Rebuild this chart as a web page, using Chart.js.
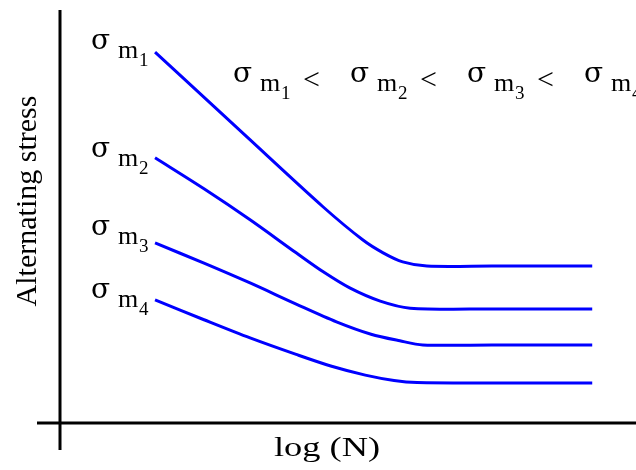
<!DOCTYPE html>
<html>
<head>
<meta charset="utf-8">
<title>Alternating stress vs log (N)</title>
<script src="https://cdn.jsdelivr.net/npm/chart.js@4.4.1/dist/chart.umd.min.js"></script>
<style>
  html, body { margin: 0; padding: 0; background: #fff; }
  .chart-box { width: 636px; height: 470px; position: relative; }
</style>
</head>
<body>
<div class="chart-box">
  <canvas id="snCurveChart"></canvas>
</div>

<script>
// DATA (arbitrary units: log N 0-10, stress 0-10)

const curveNames = ['1', '2', '3', '4'];

const logN1 = [1.65, 2.14, 3.25, 4.57, 5.26, 5.61, 5.95, 6.37, 7.50, 9.24];
const stress1 = [8.98, 8.35, 6.92, 5.23, 4.43, 4.12, 3.90, 3.80, 3.80, 3.80];

const logN2 = [1.65, 2.50, 3.30, 4.10, 4.57, 5.03, 5.56, 6.08, 7.50, 9.24];
const stress2 = [6.42, 5.67, 4.92, 4.12, 3.66, 3.27, 2.95, 2.78, 2.76, 2.76];

const logN3 = [1.65, 2.50, 3.30, 4.10, 4.80, 5.40, 5.90, 6.30, 7.50, 9.24];
const stress3 = [4.36, 3.87, 3.39, 2.88, 2.45, 2.15, 1.99, 1.89, 1.89, 1.89];

const logN4 = [1.65, 2.50, 3.30, 4.10, 4.70, 5.30, 5.80, 6.20, 7.50, 9.24];
const stress4 = [2.98, 2.50, 2.06, 1.66, 1.38, 1.16, 1.03, 0.98, 0.97, 0.97];

const xRange = [0, 10];
const yRange = [0, 10];

const xTitle = 'log (N)';
const yTitle = 'Alternating stress';


document.addEventListener('DOMContentLoaded', function() {
  initializeChart();
});


// build {x,y} points from two arrays
function toPoints(xs, ys) {
  return xs.map((x, i) => ({ x: x, y: ys[i] }));
}


// draw "σ m k" with subscript, starting at x, sigma baseline at y
function drawSigma(ctx, x, y, sub) {
  ctx.fillStyle = '#000';
  ctx.textAlign = 'left';
  ctx.textBaseline = 'alphabetic';
  ctx.font = '28px "DejaVu Serif", serif';
  ctx.fillText('σ', x, y);
  ctx.font = '26px "Liberation Serif", "Times New Roman", serif';
  ctx.fillText('m', x + 27, y + 9);
  ctx.font = '19px "Liberation Serif", "Times New Roman", serif';
  ctx.fillText(sub, x + 48, y + 17);
}


// Axes, titles and sigma labels
const annotationPlugin = {
  id: 'snAnnotations',
  afterDraw(chart) {
    const ctx = chart.ctx;
    const area = chart.chartArea;
    const xs = chart.scales.x;
    const ys = chart.scales.y;
    ctx.save();

    // axis lines (x axis runs past the y axis, y axis runs below the x axis)
    ctx.strokeStyle = '#000';
    ctx.lineWidth = 3;
    ctx.beginPath();
    ctx.moveTo(area.left, area.top);
    ctx.lineTo(area.left, area.bottom + 27);
    ctx.moveTo(area.left - 23, area.bottom);
    ctx.lineTo(chart.width, area.bottom);
    ctx.stroke();

    // x title (bitmap in reference is stretched sideways)
    ctx.save();
    ctx.fillStyle = '#000';
    ctx.font = '28px "Liberation Serif", "Times New Roman", serif';
    ctx.textAlign = 'center';
    ctx.textBaseline = 'alphabetic';
    ctx.translate(327, 456);
    ctx.scale(1.3, 1);
    ctx.fillText(xTitle, 0, 0);
    ctx.restore();

    // y title
    ctx.save();
    ctx.fillStyle = '#000';
    ctx.font = '30px "Liberation Serif", "Times New Roman", serif';
    ctx.textAlign = 'center';
    ctx.textBaseline = 'alphabetic';
    ctx.translate(36, 201);
    ctx.rotate(-Math.PI / 2);
    ctx.fillText(yTitle, 0, 0);
    ctx.restore();

    // curve labels next to each curve start
    const nudge = [-3, -1, -8, -2];
    chart.data.datasets.forEach((ds, i) => {
      const p = ds.data[0];
      const px = xs.getPixelForValue(p.x);
      const py = ys.getPixelForValue(p.y);
      drawSigma(ctx, px - 64, py + nudge[i], curveNames[i]);
    });

    // ordering note at top right
    const startX = 233;
    curveNames.forEach((name, i) => {
      const gx = startX + i * 117;
      drawSigma(ctx, gx, 82, name);
      if (i < curveNames.length - 1) {
        ctx.font = '30px "Liberation Serif", "Times New Roman", serif';
        ctx.fillText('<', gx + 70, 89);
      }
    });

    ctx.restore();
  }
};


// Initialize chart

function initializeChart() {
  const ctx = document.getElementById('snCurveChart');
  const series = [
    toPoints(logN1, stress1),
    toPoints(logN2, stress2),
    toPoints(logN3, stress3),
    toPoints(logN4, stress4)
  ];

  new Chart(ctx.getContext('2d'), {
    type: 'line',
    data: {
      datasets: series.map((pts, i) => ({
        label: 'σm' + curveNames[i],
        data: pts,
        borderColor: '#0000ff',
        borderWidth: 3,
        pointRadius: 0,
        fill: false,
        tension: 0.3
      }))
    },
    options: {
      responsive: true,
      maintainAspectRatio: false,
      animation: false,
      layout: {
        padding: { left: 60, top: 10, right: 0, bottom: 47 }
      },
      plugins: {
        legend: { display: false },
        tooltip: { enabled: false }
      },
      scales: {
        x: { type: 'linear', min: xRange[0], max: xRange[1], display: false },
        y: { type: 'linear', min: yRange[0], max: yRange[1], display: false }
      }
    },
    plugins: [annotationPlugin]
  });
}
</script>
</body>
</html>
